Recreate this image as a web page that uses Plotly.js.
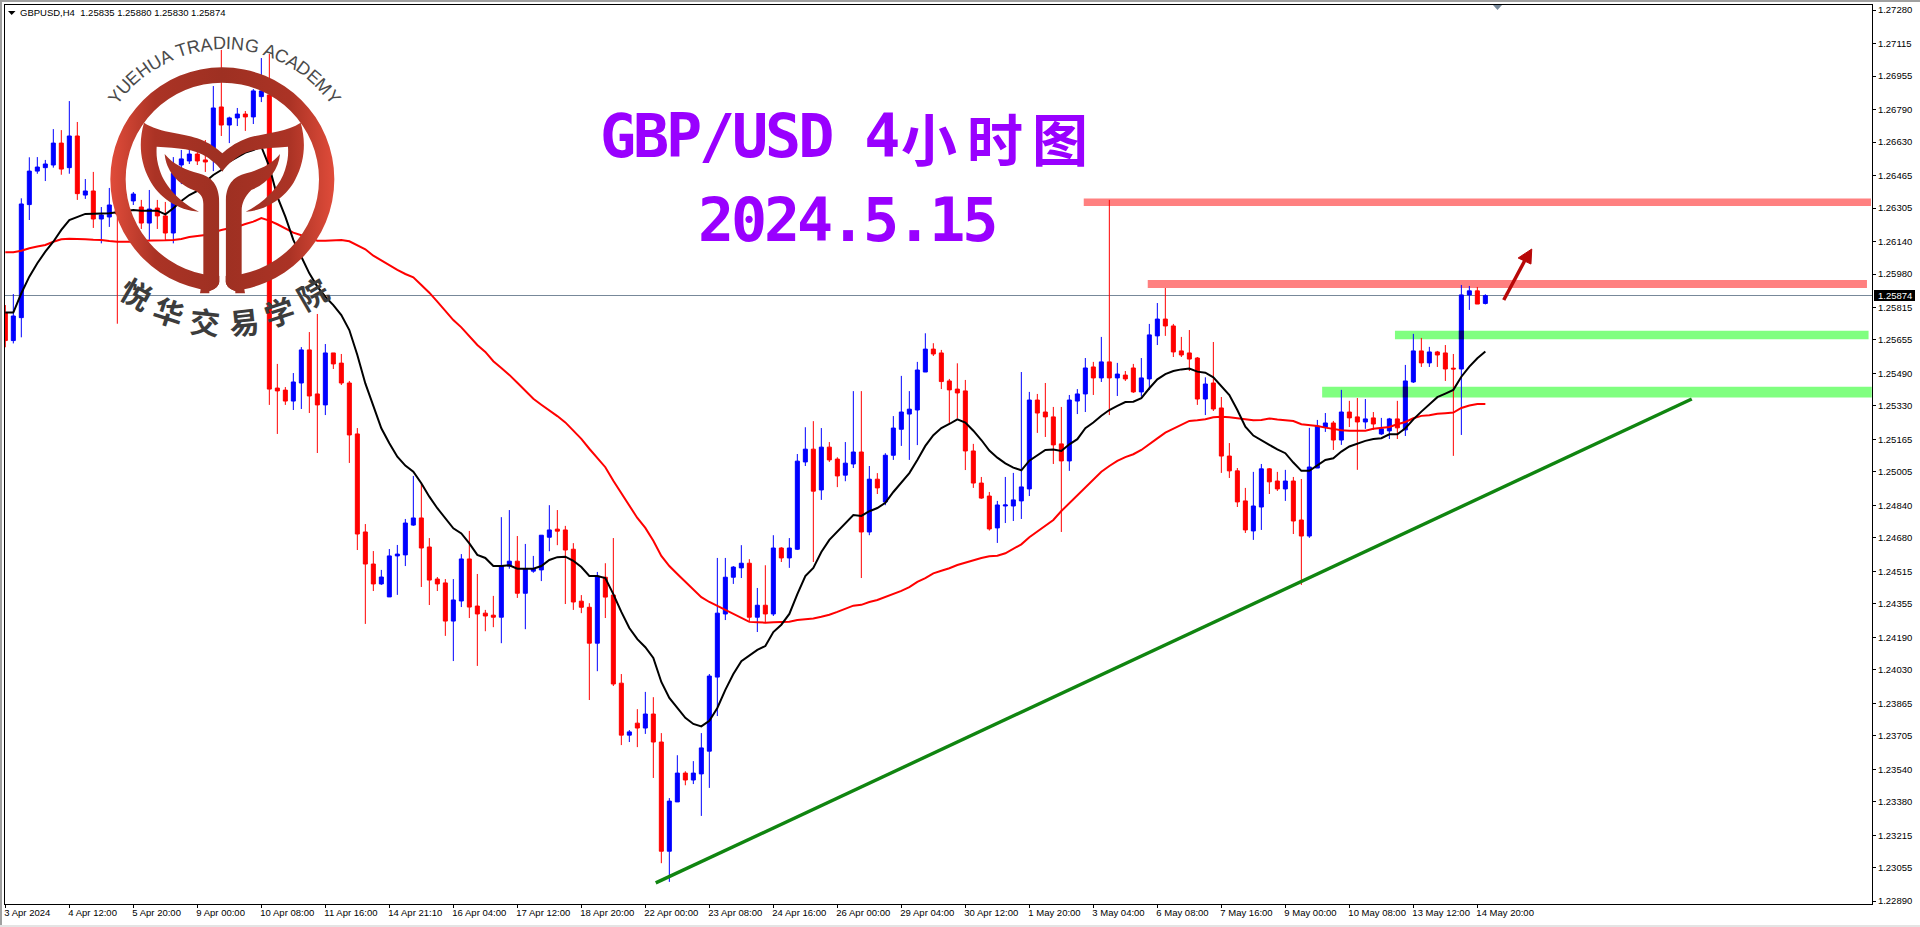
<!DOCTYPE html>
<html><head><meta charset="utf-8">
<script src="https://cdn.plot.ly/plotly-3.0.1.min.js"></script>
<style>html,body{margin:0;padding:0;background:#fff;overflow:hidden}</style>
</head><body><div id="chart" style="width:1920px;height:927px"></div>
<script>
const openP=[1.25790,1.25652,1.25765,1.26322,1.26487,1.26504,1.26517,1.26625,1.26504,1.26660,
1.26369,1.26389,1.26251,1.26261,1.26295,1.26287,1.26340,1.26310,1.26231,1.26305,
1.26266,1.26182,1.26517,1.26537,1.26571,1.26542,1.26566,1.26803,1.26714,1.26749,
1.26768,1.26754,1.26854,1.26862,1.25418,1.25408,1.25354,1.25443,1.25606,1.25389,
1.25335,1.25591,1.25541,1.25443,1.25192,1.24709,1.24551,1.24453,1.24389,1.24591,
1.24596,1.24743,1.24778,1.24635,1.24477,1.24458,1.24270,1.24369,1.24576,1.24344,
1.24309,1.24299,1.24289,1.24541,1.24565,1.24407,1.24516,1.24522,1.24683,1.24723,
1.24719,1.24624,1.24368,1.24338,1.24161,1.24486,1.24398,1.23964,1.23708,1.23767,
1.23743,1.23812,1.23674,1.23136,1.23379,1.23521,1.23487,1.23517,1.23629,1.23994,
1.24305,1.24486,1.24532,1.24555,1.24289,1.24348,1.24305,1.24630,1.24581,1.24624,
1.25054,1.25117,1.24916,1.25127,1.25068,1.24989,1.25044,1.25103,1.24709,1.24969,
1.24857,1.25087,1.25215,1.25290,1.25310,1.25497,1.25610,1.25591,1.25453,1.25413,
1.25404,1.25108,1.24950,1.24886,1.24729,1.24837,1.24837,1.24862,1.24921,1.25359,
1.25300,1.25276,1.25143,1.25059,1.25354,1.25389,1.25522,1.25468,1.25547,1.25468,
1.25482,1.25517,1.25399,1.25463,1.25675,1.25758,1.25724,1.25601,1.25591,1.25566,
1.25364,1.25443,1.25320,1.25083,1.25010,1.24862,1.24714,1.24832,1.25020,1.24960,
1.24921,1.24960,1.24768,1.24689,1.25024,1.25226,1.25246,1.25162,1.25300,1.25276,
1.25251,1.25271,1.25192,1.25207,1.25266,1.25212,1.25448,1.25601,1.25542,1.25596,
1.25591,1.25516,1.25512,1.25877,1.25897,1.25835];
const highP=[1.25827,1.25881,1.26353,1.26555,1.26556,1.26542,1.26694,1.26689,1.26832,1.26729,
1.26448,1.26483,1.26310,1.26404,1.26361,1.26361,1.26384,1.26345,1.26394,1.26345,
1.26335,1.26556,1.26591,1.26599,1.26591,1.26640,1.26906,1.27084,1.26755,1.26798,
1.26783,1.26891,1.27044,1.27064,1.25537,1.25423,1.25492,1.25620,1.25694,1.25783,
1.25635,1.25591,1.25586,1.25453,1.25221,1.24748,1.24615,1.24522,1.24625,1.24645,
1.24773,1.24985,1.24949,1.24679,1.24487,1.24477,1.24477,1.24600,1.24714,1.24502,
1.24325,1.24394,1.24782,1.24817,1.24689,1.24650,1.24591,1.24693,1.24841,1.24817,
1.24739,1.24654,1.24398,1.24358,1.24512,1.24555,1.24679,1.24009,1.23733,1.23836,
1.23921,1.23895,1.23718,1.23398,1.23609,1.23530,1.23580,1.23718,1.24009,1.24581,
1.24581,1.24541,1.24644,1.24575,1.24433,1.24545,1.24693,1.24634,1.24679,1.25093,
1.25225,1.25255,1.25221,1.25152,1.25077,1.25152,1.25403,1.25403,1.25034,1.24999,
1.25097,1.25280,1.25478,1.25403,1.25547,1.25688,1.25639,1.25606,1.25463,1.25540,
1.25458,1.25143,1.24980,1.24906,1.24862,1.24980,1.25000,1.25497,1.25399,1.25389,
1.25443,1.25325,1.25325,1.25384,1.25413,1.25566,1.25547,1.25670,1.26345,1.25542,
1.25502,1.25537,1.25566,1.25734,1.25837,1.25911,1.25734,1.25670,1.25704,1.25571,
1.25471,1.25645,1.25374,1.25147,1.25024,1.24926,1.25005,1.25044,1.25024,1.25005,
1.25015,1.24980,1.24970,1.25222,1.25261,1.25295,1.25256,1.25409,1.25355,1.25369,
1.25364,1.25300,1.25271,1.25271,1.25355,1.25532,1.25685,1.25665,1.25621,1.25601,
1.25630,1.25586,1.25926,1.25921,1.25916,1.25880];
const lowP=[1.25619,1.25638,1.25668,1.26246,1.26474,1.26438,1.26504,1.26469,1.26474,1.26345,
1.26350,1.26207,1.26131,1.26212,1.25735,1.26262,1.26320,1.26202,1.26148,1.26202,
1.26148,1.26131,1.26423,1.26522,1.26517,1.26483,1.26487,1.26660,1.26625,1.26709,
1.26685,1.26719,1.26827,1.25335,1.25192,1.25335,1.25310,1.25315,1.25295,1.25098,
1.25285,1.25512,1.25433,1.25049,1.24620,1.24256,1.24418,1.24448,1.24389,1.24399,
1.24541,1.24739,1.24438,1.24349,1.24418,1.24197,1.24073,1.24339,1.24285,1.24049,
1.24220,1.24240,1.24161,1.24528,1.24384,1.24230,1.24508,1.24467,1.24614,1.24644,
1.24354,1.24325,1.24309,1.23881,1.24023,1.24285,1.23950,1.23659,1.23674,1.23649,
1.23714,1.23497,1.23077,1.22985,1.23379,1.23461,1.23467,1.23310,1.23448,1.23802,
1.24275,1.24453,1.24482,1.24269,1.24216,1.24260,1.24295,1.24561,1.24532,1.24620,
1.25034,1.24561,1.24867,1.25054,1.24930,1.24959,1.25024,1.24482,1.24693,1.24896,
1.24841,1.25064,1.25133,1.25064,1.25137,1.25497,1.25576,1.25413,1.25244,1.25269,
1.25014,1.24926,1.24872,1.24716,1.24655,1.24753,1.24763,1.24773,1.24886,1.25197,
1.25177,1.25044,1.24709,1.25010,1.25290,1.25300,1.25384,1.25448,1.25285,1.25379,
1.25453,1.25394,1.25376,1.25409,1.25630,1.25675,1.25571,1.25571,1.25502,1.25335,
1.25285,1.25305,1.25000,1.24975,1.24832,1.24704,1.24670,1.24719,1.24896,1.24911,
1.24862,1.24699,1.24448,1.24680,1.25024,1.25202,1.25113,1.25138,1.25226,1.25015,
1.25217,1.25212,1.25187,1.25167,1.25167,1.25182,1.25443,1.25522,1.25522,1.25522,
1.25453,1.25084,1.25187,1.25803,1.25832,1.25830];
const closeP=[1.25652,1.25773,1.26325,1.26487,1.26507,1.26522,1.26625,1.26497,1.26660,1.26376,
1.26389,1.26251,1.26271,1.26320,1.26276,1.26328,1.26374,1.26231,1.26300,1.26266,
1.26182,1.26476,1.26547,1.26571,1.26537,1.26532,1.26798,1.26714,1.26749,1.26768,
1.26754,1.26882,1.26882,1.25413,1.25404,1.25354,1.25448,1.25606,1.25379,1.25335,
1.25591,1.25537,1.25443,1.25187,1.24699,1.24551,1.24453,1.24487,1.24591,1.24600,
1.24753,1.24778,1.24630,1.24472,1.24453,1.24270,1.24374,1.24576,1.24339,1.24305,
1.24295,1.24289,1.24541,1.24565,1.24407,1.24526,1.24528,1.24693,1.24719,1.24713,
1.24620,1.24364,1.24338,1.24161,1.24492,1.24388,1.23960,1.23708,1.23724,1.23743,
1.23812,1.23674,1.23136,1.23383,1.23521,1.23487,1.23521,1.23645,1.23999,1.24309,
1.24486,1.24536,1.24555,1.24289,1.24348,1.24305,1.24630,1.24581,1.24630,1.25058,
1.25117,1.24910,1.25127,1.25064,1.24985,1.25048,1.25103,1.24709,1.24969,1.24926,
1.25087,1.25221,1.25300,1.25314,1.25507,1.25610,1.25586,1.25450,1.25409,1.25394,
1.25108,1.24950,1.24876,1.24724,1.24842,1.24842,1.24867,1.24931,1.25359,1.25295,
1.25276,1.25138,1.25059,1.25359,1.25389,1.25517,1.25468,1.25547,1.25468,1.25487,
1.25463,1.25399,1.25468,1.25680,1.25758,1.25724,1.25596,1.25581,1.25561,1.25364,
1.25438,1.25315,1.25083,1.25010,1.24857,1.24719,1.24837,1.25020,1.24956,1.24921,
1.24960,1.24763,1.24689,1.25029,1.25231,1.25246,1.25162,1.25300,1.25271,1.25251,
1.25266,1.25241,1.25217,1.25266,1.25222,1.25453,1.25601,1.25542,1.25596,1.25581,
1.25512,1.25512,1.25877,1.25897,1.25832,1.25874];
const maFast=[1.25790,1.25790,1.25885,1.25967,1.26033,1.26090,1.26139,1.26197,1.26246,1.26263,
1.26276,1.26277,1.26277,1.26279,1.26284,1.26290,1.26295,1.26292,1.26292,1.26292,
1.26274,1.26304,1.26340,1.26369,1.26389,1.26435,1.26468,1.26492,1.26534,1.26558,
1.26578,1.26591,1.26607,1.26509,1.26361,1.26263,1.26148,1.26065,1.25983,1.25918,
1.25868,1.25827,1.25778,1.25704,1.25581,1.25441,1.25326,1.25220,1.25146,1.25080,
1.25036,1.25006,1.24949,1.24883,1.24826,1.24776,1.24727,1.24702,1.24653,1.24596,
1.24581,1.24541,1.24541,1.24545,1.24528,1.24528,1.24528,1.24541,1.24571,1.24585,
1.24587,1.24567,1.24536,1.24492,1.24492,1.24482,1.24403,1.24315,1.24236,1.24181,
1.24141,1.24088,1.23970,1.23891,1.23842,1.23793,1.23763,1.23751,1.23779,1.23842,
1.23931,1.24009,1.24072,1.24102,1.24128,1.24147,1.24216,1.24252,1.24305,1.24403,
1.24492,1.24532,1.24610,1.24670,1.24709,1.24752,1.24792,1.24788,1.24811,1.24827,
1.24853,1.24906,1.24955,1.24999,1.25064,1.25133,1.25186,1.25221,1.25241,1.25264,
1.25248,1.25208,1.25162,1.25110,1.25075,1.25047,1.25026,1.25013,1.25060,1.25088,
1.25113,1.25115,1.25108,1.25141,1.25166,1.25220,1.25248,1.25282,1.25310,1.25330,
1.25349,1.25351,1.25368,1.25417,1.25461,1.25487,1.25502,1.25510,1.25514,1.25499,
1.25494,1.25471,1.25428,1.25384,1.25310,1.25228,1.25184,1.25159,1.25138,1.25116,
1.25097,1.25051,1.25010,1.25010,1.25039,1.25064,1.25072,1.25105,1.25130,1.25143,
1.25158,1.25167,1.25171,1.25190,1.25190,1.25220,1.25264,1.25302,1.25338,1.25373,
1.25391,1.25409,1.25474,1.25524,1.25565,1.25598];
const maSlow=[1.26087,1.26087,1.26095,1.26107,1.26115,1.26123,1.26139,1.26151,1.26154,1.26154,
1.26151,1.26149,1.26148,1.26143,1.26139,1.26139,1.26139,1.26144,1.26144,1.26146,
1.26146,1.26148,1.26152,1.26162,1.26167,1.26172,1.26185,1.26197,1.26205,1.26213,
1.26226,1.26238,1.26256,1.26243,1.26225,1.26205,1.26184,1.26171,1.26156,1.26144,
1.26144,1.26146,1.26148,1.26141,1.26123,1.26102,1.26070,1.26046,1.26024,1.26000,
1.25980,1.25964,1.25926,1.25888,1.25844,1.25799,1.25753,1.25717,1.25671,1.25630,
1.25596,1.25550,1.25517,1.25483,1.25444,1.25403,1.25365,1.25336,1.25310,1.25280,
1.25249,1.25211,1.25168,1.25119,1.25074,1.25028,1.24961,1.24902,1.24841,1.24778,
1.24729,1.24666,1.24591,1.24541,1.24502,1.24463,1.24423,1.24388,1.24364,1.24344,
1.24325,1.24305,1.24285,1.24266,1.24264,1.24262,1.24264,1.24267,1.24267,1.24275,
1.24279,1.24283,1.24291,1.24301,1.24315,1.24331,1.24346,1.24350,1.24364,1.24374,
1.24388,1.24403,1.24419,1.24437,1.24463,1.24482,1.24505,1.24518,1.24530,1.24546,
1.24558,1.24571,1.24581,1.24589,1.24592,1.24604,1.24624,1.24648,1.24683,1.24711,
1.24739,1.24768,1.24812,1.24850,1.24891,1.24929,1.24968,1.25006,1.25034,1.25059,
1.25078,1.25092,1.25113,1.25143,1.25170,1.25198,1.25216,1.25236,1.25256,1.25259,
1.25264,1.25274,1.25277,1.25274,1.25269,1.25261,1.25259,1.25261,1.25268,1.25263,
1.25259,1.25256,1.25240,1.25236,1.25231,1.25223,1.25215,1.25210,1.25208,1.25208,
1.25208,1.25217,1.25220,1.25226,1.25240,1.25251,1.25269,1.25281,1.25284,1.25291,
1.25294,1.25297,1.25320,1.25332,1.25340,1.25340];
const yTickLabels=["1.27280","1.27115","1.26955","1.26790","1.26630","1.26465","1.26305","1.26140","1.25980","1.25815","1.25655","1.25490","1.25330","1.25165","1.25005","1.24840","1.24680","1.24515","1.24355","1.24190","1.24030","1.23865","1.23705","1.23540","1.23380","1.23215","1.23055","1.22890"];
const xTickLabels=["3 Apr 2024","4 Apr 12:00","5 Apr 20:00","9 Apr 00:00","10 Apr 08:00","11 Apr 16:00","14 Apr 21:10","16 Apr 04:00","17 Apr 12:00","18 Apr 20:00","22 Apr 00:00","23 Apr 08:00","24 Apr 16:00","26 Apr 00:00","29 Apr 04:00","30 Apr 12:00","1 May 20:00","3 May 04:00","6 May 08:00","7 May 16:00","9 May 00:00","10 May 08:00","13 May 12:00","14 May 20:00"];
const lastPrice=1.25874;
const header="GBPUSD,H4\u00a0\u00a01.25835 1.25880 1.25830 1.25874";
const titleLatin="GBP/USD 4", titleDate="2024.5.15", titleCjk=["小","时","图"];
const trendX=[81.3,210.8], trendY=[1.2298,1.25364];
const resistanceBands=[[134.8,233.2,1.26315,1.26352],[142.8,232.7,1.25911,1.25950]];
const supportBands=[[173.7,232.9,1.25658,1.25701],[164.6,233.3,1.25372,1.25425]];
const bandOverlapBars=[[175,1.25372,1.25425],[182,1.25658,1.25701]];
const logoEn="YUEHUA TRADING ACADEMY";
const logoEnW=[667,722,667,722,722,667,278,611,722,667,722,278,722,778,278,667,722,667,722,667,833,667];
const logoCn=["悦","华","交","易","学","院"];

const L=5,T=5,R=1872,B=904,W=R-L,H=B-T;
const px=(x)=>(x-L)/W, py=(y)=>1-(y-T)/H;
const FONT="Liberation Sans, Arial, sans-serif";
const idx=openP.map((_,i)=>i);

// logo artwork
const logoSvg=`<svg xmlns="http://www.w3.org/2000/svg" width="1440" height="1440" viewBox="0 0 1440 1440">
<defs><linearGradient id="g" gradientUnits="userSpaceOnUse" x1="330" y1="0" x2="1004" y2="0">
<stop offset="0" stop-color="#e04c3a"/><stop offset="0.2" stop-color="#ab3325"/><stop offset="0.5" stop-color="#9e3022"/><stop offset="0.8" stop-color="#ab3325"/><stop offset="1" stop-color="#e04c3a"/></linearGradient>
<clipPath id="c"><path clip-rule="evenodd" d="M0,0H1440V1440H0Z M658,560 L658,845 Q658,862 628,874 L628,900 L706,900 L706,874 Q677,862 677,845 L677,560 Z"/></clipPath></defs>
<g clip-path="url(#c)" fill="url(#g)">
<path fill-rule="evenodd" d="M331,538a336,336 0 1,0 672,0a336,336 0 1,0 -672,0Z M377,538a290,290 0 1,0 580,0a290,290 0 1,0 -580,0Z"/>
<path d="M432,368 C480,400 560,400 600,418 C630,430 650,445 667,460 C684,445 704,430 734,418 C774,400 854,400 902,368 C917,420 917,480 885,540 C860,590 800,632 737,635 C790,610 840,560 855,510 C865,480 865,460 864,440 C800,445 750,445 712,472 C695,485 680,495 667,515 C654,495 639,485 622,472 C584,445 534,445 470,440 C469,460 469,480 479,510 C494,560 544,610 597,635 C534,632 474,590 449,540 C417,480 417,420 432,368Z"/>
<path d="M494,462 C520,495 560,510 595,520 C635,530 658,555 658,610 L658,880 L600,880 L610,822 L610,612 C610,590 600,578 580,570 C530,550 498,510 494,462Z"/>
<path d="M840,462 C814,495 774,510 739,520 C699,530 677,555 677,610 L677,880 L735,880 L725,822 L725,632 C725,610 734,590 754,570 C804,550 836,510 840,462Z"/>
</g></svg>`;

const ann=[];
function txt(text,x,y,size,color,opts){
  ann.push(Object.assign({xref:'paper',yref:'paper',x:px(x),y:py(y),text:text,showarrow:false,xanchor:'left',yanchor:'middle',
    font:{family:FONT,size:size,color:color},borderpad:0,borderwidth:0},opts||{}));
}
txt(header,20,13,9.5,'#000');
// titles: tall monospace tightened to the half-width grid of the reference
const MONO="DejaVu Sans Mono, Liberation Mono, monospace", CJK="Noto Sans CJK SC, sans-serif";
const tight=s=>'<span style="letter-spacing:-3.1px">'+s+'</span>';
txt(tight(titleLatin),600,136,60,'#9900ff',{font:{family:MONO,size:60,color:'#9900ff',weight:700}});
txt(tight(titleDate),698,220,60,'#9900ff',{font:{family:MONO,size:60,color:'#9900ff',weight:700}});
titleCjk.forEach((c,i)=>txt(c,[929,995,1060][i],136,56,'#9900ff',{xanchor:'center',font:{family:CJK,size:56,color:'#9900ff',weight:700}}));
// last price
ann.push({xref:'paper',yref:'y',x:px(1877),y:lastPrice,text:lastPrice.toFixed(5),showarrow:false,xanchor:'left',yanchor:'middle',font:{family:FONT,size:9.5,color:'#fff'},borderpad:0});
// logo curved text
(function(){
  const cx=224.5,cy=179.3,r=136,span=111;
  const tot=logoEnW.reduce((a,b)=>a+b,0);let acc=0;
  logoEn.split('').forEach((ch,i)=>{
    const mid=acc+logoEnW[i]/2;acc+=logoEnW[i];
    const a=(mid/tot-0.5)*span, rad=a*Math.PI/180;
    if(ch===' ')return;
    txt(ch,cx+r*Math.sin(rad),cy-r*Math.cos(rad),18,'#4a4a4a',{xanchor:'center',textangle:a});
  });
  const pos=[[137,293,30],[169,311,18],[205,321,6],[244,321,-6],[279,311,-18],[312,293,-30]];
  logoCn.forEach((ch,i)=>txt(ch,pos[i][0],pos[i][1],30,'#3c3c3c',{xanchor:'center',textangle:pos[i][2],font:{family:CJK,size:30,color:'#3c3c3c',weight:700}}));
})();

const shapes=[];
const pRect=(x0,y0,x1,y1,c)=>shapes.push({type:'rect',xref:'paper',yref:'paper',x0:px(x0),x1:px(x1),y0:py(y0),y1:py(y1),fillcolor:c,line:{width:0},layer:'above'});
const pPath=(pts,c)=>shapes.push({type:'path',xref:'paper',yref:'paper',path:'M'+pts.map(p=>px(p[0])+','+py(p[1])).join('L')+'Z',fillcolor:c,line:{width:0},layer:'above'});
// window chrome
pRect(0,0,1920,2,'#a0a0a0');pRect(0,0,2,927,'#a0a0a0');pRect(0,925,1920,927,'#e4e4e4');
// small markers
pPath([[8,11],[15.5,11],[11.7,15]],'#000');
pPath([[1493,5],[1502,5],[1497.5,10]],'#778899');
// last price box
pRect(1874,290,1915,301,'#000');
// bands
resistanceBands.forEach(b=>shapes.push({type:'rect',xref:'x',yref:'y',x0:b[0],x1:b[1],y0:b[2],y1:b[3],fillcolor:'#ff8080',line:{width:0},layer:'below'}));
supportBands.forEach(b=>shapes.push({type:'rect',xref:'x',yref:'y',x0:b[0],x1:b[1],y0:b[2],y1:b[3],fillcolor:'#80ff80',line:{width:0},layer:'below'}));
bandOverlapBars.forEach(b=>shapes.push({type:'rect',xref:'x',yref:'y',x0:b[0]-0.31,x1:b[0]+0.31,y0:b[1],y1:b[2],fillcolor:'#000080',line:{width:0},layer:'above'}));
// last price line
shapes.push({type:'line',xref:'paper',yref:'y',x0:0,x1:1,y0:lastPrice,y1:lastPrice,line:{color:'#778899',width:1},layer:'below'});
// arrow
shapes.push({type:'line',xref:'x',yref:'y',x0:187.3,y0:1.25852,x1:189.9,y1:1.26044,line:{color:'#b80808',width:3.5},layer:'above'});
shapes.push({type:'path',xref:'x',yref:'y',path:'M190.8,1.26103L189.1,1.26059L190.7,1.26029Z',fillcolor:'#b80808',line:{color:'#b80808',width:1},layer:'above'});

const data=[
 {type:'candlestick',x:idx,open:openP,high:highP,low:lowP,close:closeP,whiskerwidth:0,hoverinfo:'skip',showlegend:false,
  increasing:{line:{color:'#0000ff',width:1},fillcolor:'#0000ff'},
  decreasing:{line:{color:'#ff0000',width:1},fillcolor:'#ff0000'}},
 {type:'scatter',mode:'lines',x:idx,y:maSlow,line:{color:'#ff0000',width:2},hoverinfo:'skip',showlegend:false},
 {type:'scatter',mode:'lines',x:idx,y:maFast,line:{color:'#000000',width:2},hoverinfo:'skip',showlegend:false},
 {type:'scatter',mode:'lines',x:trendX,y:trendY,line:{color:'#108510',width:3.4},hoverinfo:'skip',showlegend:false}
];
const layout={
 width:1920,height:927,margin:{l:L,r:1920-R,t:T,b:927-B,pad:0},paper_bgcolor:'#fff',plot_bgcolor:'#fff',
 showlegend:false,boxgap:0.5,boxgroupgap:0,
 xaxis:{type:'linear',range:[-0.04,233.33],fixedrange:true,showgrid:false,zeroline:false,rangeslider:{visible:false},
   tickmode:'array',tickvals:xTickLabels.map((_,i)=>i*8),ticktext:xTickLabels,ticks:'outside',ticklen:3,tickcolor:'#000',tickangle:0,
   ticklabelposition:'outside right',ticklabeloverflow:'allow',ticklabelshift:-2,tickfont:{family:FONT,size:9.5,color:'#000'},
   showline:true,linecolor:'#000',linewidth:1,mirror:true},
 yaxis:{type:'linear',side:'right',range:[1.2733-904*4.927e-5,1.2733-5*4.927e-5],fixedrange:true,showgrid:false,zeroline:false,
   tickmode:'array',tickvals:yTickLabels.map(Number),ticktext:yTickLabels,ticks:'outside',ticklen:3,tickcolor:'#000',
   tickfont:{family:FONT,size:9.5,color:'#000'},showline:true,linecolor:'#000',linewidth:1,mirror:true},
 shapes:shapes,annotations:ann,
 images:[{source:'data:image/svg+xml;charset=utf-8,'+encodeURIComponent(logoSvg),xref:'paper',yref:'paper',x:px(0),y:py(0),sizex:480/W,sizey:480/H,sizing:'stretch',xanchor:'left',yanchor:'top',layer:'above'}]
};
Plotly.newPlot('chart',data,layout,{displayModeBar:false,staticPlot:true});
</script></body></html>
